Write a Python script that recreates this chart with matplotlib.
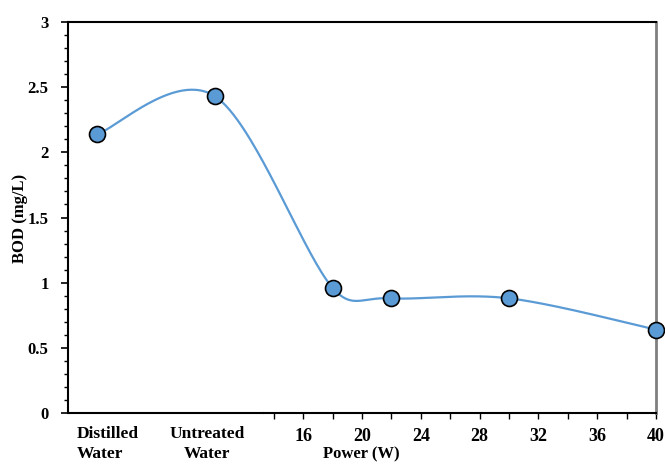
import numpy as np
import matplotlib
matplotlib.use("Agg")
import matplotlib.pyplot as plt
from matplotlib.ticker import MultipleLocator, FixedLocator

# Samples: two reference waters followed by the power series (W)
categories = [("Distilled", "Water"), ("Untreated", "Water")]
category_x = [2, 10]
category_bod = [2.14, 2.43]
power_w = [18, 22, 30, 40]
power_bod = [0.96, 0.88, 0.88, 0.64]

x_pts = np.array(category_x + power_w, dtype=float)
y_pts = np.array(category_bod + power_bod, dtype=float)


def smooth_display(pts, n=60):
    """Cubic Bezier smoothing in screen space; handle length limited to
    half the neighbouring segment so short segments don't overshoot."""
    out = []
    for i in range(len(pts) - 1):
        p0 = pts[i - 1] if i > 0 else pts[i]
        p1 = pts[i]
        p2 = pts[i + 1]
        p3 = pts[i + 2] if i + 2 < len(pts) else pts[i + 1]
        seg_len = np.linalg.norm(p2 - p1)

        def handle(a, b):
            v = (b - a) / 6.0
            L = np.linalg.norm(v)
            lim = 0.5 * seg_len
            return v if L <= lim or L == 0 else v * (lim / L)

        c1 = p1 + handle(p0, p2)
        c2 = p2 - handle(p1, p3)
        t = np.linspace(0, 1, n)[:, None]
        seg = ((1 - t) ** 3) * p1 + 3 * ((1 - t) ** 2) * t * c1 \
            + 3 * (1 - t) * t ** 2 * c2 + t ** 3 * p2
        out.append(seg if i == 0 else seg[1:])
    return np.vstack(out)


plt.rcParams["font.family"] = ["Liberation Serif", "DejaVu Serif"]
plt.rcParams["font.weight"] = "bold"

W, H = 665, 466
ax_l, ax_r, ax_t, ax_b = 68, 656, 22, 413
fig = plt.figure(figsize=(W / 100, H / 100), dpi=100)
ax = fig.add_axes([ax_l / W, (H - ax_b) / H, (ax_r - ax_l) / W, (ax_b - ax_t) / H])


def px_to_axes(px, py):
    return (px - ax_l) / (ax_r - ax_l), (ax_b - py) / (ax_b - ax_t)


ax.set_xlim(0, 40)
ax.set_ylim(0, 3)

blue = "#5B9BD5"
disp = ax.transData.transform(np.column_stack([x_pts, y_pts]))
curve = ax.transData.inverted().transform(smooth_display(disp))
ax.plot(curve[:, 0], curve[:, 1], color=blue, lw=1.6, zorder=2, clip_on=False)
ax.plot(x_pts, y_pts, "o", ms=11.5, mfc=blue, mec="black", mew=1.2,
        zorder=3, clip_on=False)

# y axis
ax.yaxis.set_minor_locator(MultipleLocator(0.1))
ax.set_yticks(np.arange(0, 3.01, 0.5))
ax.set_yticklabels(["0", "0.5", "1", "1.5", "2", "2.5", "3"],
                   fontsize=12, fontweight="bold")
ax.tick_params(axis="y", which="major", length=5, width=1.2, pad=9)
ax.tick_params(axis="y", which="minor", length=3, width=1.0)

# x axis: numeric power scale
ax.xaxis.set_major_locator(FixedLocator(np.arange(16, 41, 4)))
ax.xaxis.set_minor_locator(FixedLocator(np.arange(14, 40, 2)))
ax.set_xticklabels([str(v) for v in range(16, 41, 4)],
                   fontsize=13, fontweight="bold")
ax.tick_params(axis="x", which="both", length=4, width=1.0, pad=7)

axis_start = 13.3
ax.spines["bottom"].set_bounds(axis_start, 40)
ax.spines["bottom"].set_linewidth(1.5)
ax.plot([0, axis_start], [0, 0], color="black", lw=1.5, clip_on=False,
        zorder=4, solid_capstyle="butt")
ax.spines["left"].set_linewidth(1.5)
ax.spines["top"].set_linewidth(1.5)
ax.spines["right"].set_color("#7f7f7f")
ax.spines["right"].set_linewidth(2.0)

# category labels under the axis
label_specs = [(77, "left"), (207, "center")]
for (line1, line2), (px, ha) in zip(categories, label_specs):
    for text, base in ((line1, 438.5), (line2, 458.5)):
        xa, ya = px_to_axes(px, base)
        ax.text(xa, ya, text, ha=ha, va="baseline", fontsize=12.5,
                fontweight="bold", transform=ax.transAxes)

xa, ya = px_to_axes(361.5, 458.5)
ax.text(xa, ya, "Power (W)", ha="center", va="baseline", fontsize=12,
        fontweight="bold", transform=ax.transAxes)

ax.set_ylabel("BOD (mg/L)", fontsize=12, fontweight="bold")
ax.yaxis.set_label_coords(*px_to_axes(28.5, 218.5))

fig.savefig("out.png", dpi=100)
